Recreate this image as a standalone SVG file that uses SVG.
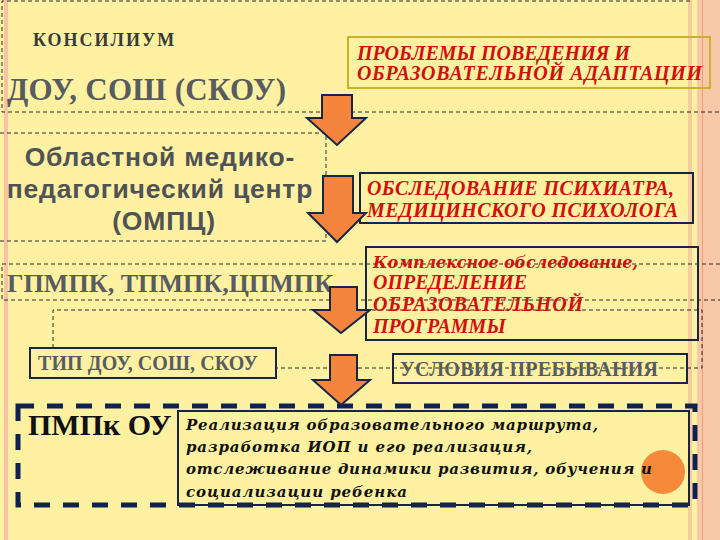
<svg xmlns="http://www.w3.org/2000/svg" width="720" height="540" viewBox="0 0 720 540">
<style>
.dash{fill:none;stroke:#2a2a2a;stroke-width:1;stroke-dasharray:4 3}
.gray{fill:#585c60}
.red{fill:#d0100c}
.navybox{fill:none;stroke:#1a2444;stroke-width:2}
.arrow{fill:#f5843c;stroke:#1a2444;stroke-width:2;stroke-linejoin:miter}
.it{fill:#111}
</style>
<rect width="720" height="540" fill="#fef1a2"/>
<rect x="4" y="0" width="4" height="540" fill="#f6c3a6"/>
<rect x="688" y="0" width="4" height="540" fill="#f8cb9c"/>
<rect x="697" y="0" width="23" height="540" fill="#f9c8a8"/>
<line x1="702.5" y1="0" x2="702.5" y2="540" stroke="#ef9f72" stroke-width="1"/>

<g id="frames">
<polyline class="dash" points="690,1 2,1 2,112 720,112"/>
<polyline class="dash" points="0,133 326,133 326,241 0,241"/>
<polyline class="dash" points="720,264 2,264 2,300 720,300"/>
<polyline class="dash" points="53,348 53,310 702,310 702,368 276,368"/>
</g>

<g id="konsilium">
<text x="33" y="46" font-family="'Liberation Serif', serif" font-weight="bold" font-size="18" letter-spacing="2" fill="#3a3a3a">КОНСИЛИУМ</text>
</g>
<g id="dou">
<text class="gray" x="7" y="100" font-family="'Liberation Serif', serif" font-weight="bold" font-size="31" textLength="279">ДОУ, СОШ (СКОУ)</text>
</g>
<g id="ompc">
<text font-family="'Liberation Sans', Arial, sans-serif" font-weight="bold" font-size="26.5" fill="#505254" text-anchor="middle" letter-spacing="0.8">
<tspan x="164" y="166">Областной медико-</tspan>
<tspan x="164" y="198">педагогический центр</tspan>
<tspan x="164" y="230">(ОМПЦ)</tspan>
</text>
</g>
<g id="gpmpk">
<text class="gray" x="7" y="292" font-family="'Liberation Serif', serif" font-weight="bold" font-size="26" textLength="326">ГПМПК, ТПМПК,ЦПМПК</text>
</g>
<g id="tip">
<rect class="navybox" x="30" y="348" width="246" height="30" fill="#fef1a2" style="fill:#fef1a2"/>
<text class="gray" x="38" y="370" font-family="'Liberation Serif', serif" font-weight="bold" font-size="20" textLength="220">ТИП ДОУ, СОШ, СКОУ</text>
</g>
<g id="problems">
<rect x="348" y="37" width="362" height="51" fill="none" stroke="#c9b12a" stroke-width="2"/>
<text class="red" font-family="'Liberation Serif', serif" font-weight="bold" font-style="italic" font-size="20"><tspan x="357" y="60">ПРОБЛЕМЫ ПОВЕДЕНИЯ И</tspan><tspan x="357" y="80" textLength="345">ОБРАЗОВАТЕЛЬНОЙ АДАПТАЦИИ</tspan></text>
</g>
<g id="exam">
<rect class="navybox" x="360" y="173" width="333" height="50"/>
<text class="red" font-family="'Liberation Serif', serif" font-weight="bold" font-style="italic" font-size="20"><tspan x="367" y="195" textLength="307">ОБСЛЕДОВАНИЕ ПСИХИАТРА,</tspan><tspan x="367" y="217" textLength="311">МЕДИЦИНСКОГО ПСИХОЛОГА</tspan></text>
</g>
<g id="complex">
<rect class="navybox" x="366" y="247" width="332" height="93"/>
<text class="red" font-family="'DejaVu Serif', serif" font-weight="bold" font-style="italic" font-size="16" x="373" y="268" textLength="265">Комплексное обследование,</text>
<text class="red" font-family="'Liberation Serif', serif" font-weight="bold" font-style="italic" font-size="20"><tspan x="373" y="289">ОПРЕДЕЛЕНИЕ</tspan><tspan x="373" y="311" textLength="210">ОБРАЗОВАТЕЛЬНОЙ</tspan><tspan x="373" y="333">ПРОГРАММЫ</tspan></text>
</g>
<g id="conditions">
<rect class="navybox" x="393" y="354" width="294" height="29"/>
<text class="gray" x="400" y="376" font-family="'Liberation Serif', serif" font-weight="bold" font-size="20" textLength="258">УСЛОВИЯ ПРЕБЫВАНИЯ</text>
</g>
<g id="pmpk">
<rect x="18" y="406" width="677" height="99" fill="none" stroke="#0e2252" stroke-width="5" stroke-dasharray="16 13"/>
<text x="28" y="435" font-family="'Liberation Serif', serif" font-weight="bold" font-size="30" fill="#111">ПМПк ОУ</text>
</g>
<g id="route">
<rect class="navybox" x="178" y="411" width="511" height="94"/>
<circle cx="663" cy="472" r="22" fill="#f78a3a"/>
<text class="it" font-family="'DejaVu Serif', serif" font-style="italic" font-weight="bold" font-size="15"><tspan x="186" y="430" textLength="412">Реализация образовательного маршрута,</tspan><tspan x="186" y="452" textLength="346">разработка ИОП и его реализация,</tspan><tspan x="186" y="474" textLength="466">отслеживание динамики развития, обучения и</tspan><tspan x="186" y="497" textLength="221">социализации ребенка</tspan></text>
</g>

<g id="connectors">
<polygon class="arrow" points="322,95 352,95 352,118 366,118 337,145 307,118 322,118"/>
<polygon class="arrow" points="323,176 353,176 353,213 366,213 337,242 308,213 323,213"/>
<polygon class="arrow" points="330,287 357,287 357,310 370,310 341,333 313,310 330,310"/>
<polygon class="arrow" points="330,355 357,355 357,380 370,380 341,405 313,380 330,380"/>
</g>
</svg>
